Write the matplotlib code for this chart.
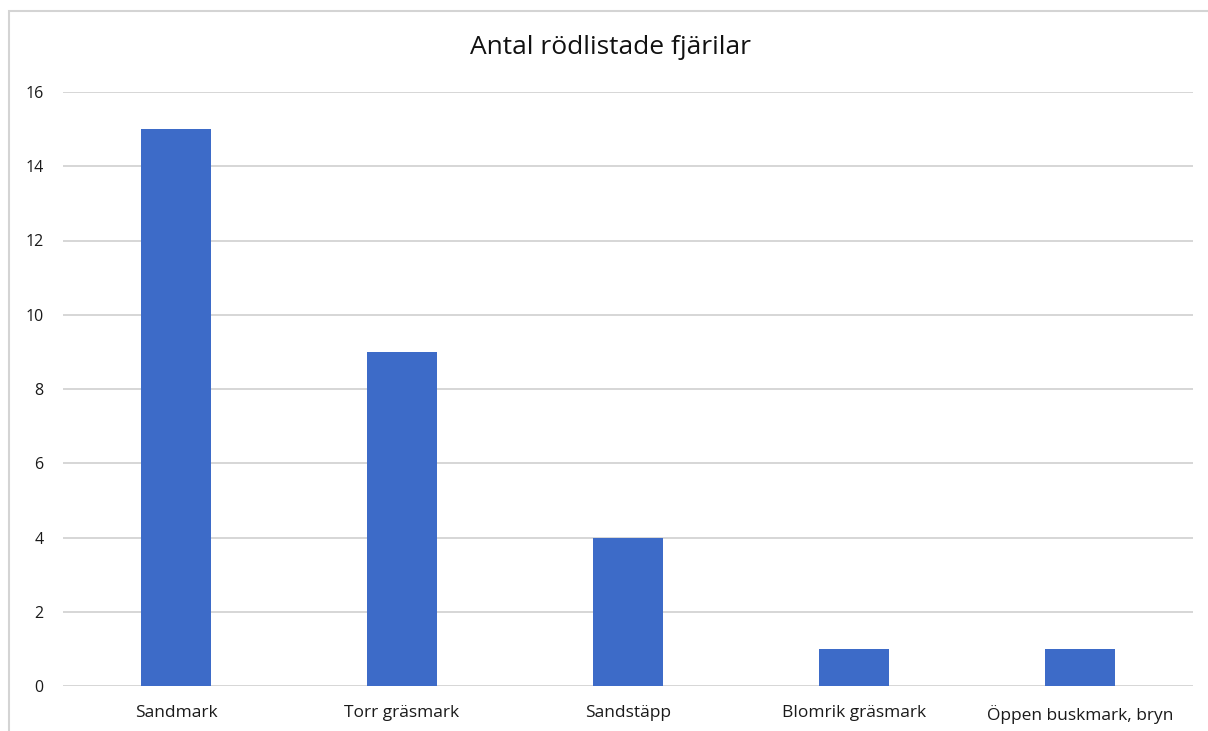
import matplotlib
matplotlib.use("Agg")
import matplotlib.pyplot as plt
from matplotlib.patches import Rectangle

categories = ["Sandmark", "Torr gräsmark", "Sandstäpp", "Blomrik gräsmark", "Öppen buskmark, bryn"]
values = [15, 9, 4, 1, 1]
y_ticks = [0, 2, 4, 6, 8, 10, 12, 14, 16]
title = "Antal rödlistade fjärilar"

W, H = 1208, 731
fig = plt.figure(figsize=(W / 100, H / 100), dpi=100)
fig.patch.set_facecolor("white")

# light frame around the chart area
fig.patches.append(Rectangle((9 / W, -0.01), 1.02, 1 - 11 / H + 0.01,
                             transform=fig.transFigure, fill=False,
                             edgecolor="#d4d4d4", linewidth=1.5))

left, right = 63 / W, 1193 / W
bottom, top = 1 - 686 / H, 1 - 92 / H
ax = fig.add_axes([left, bottom, right - left, top - bottom])

font = "Open Sans"
x = range(len(categories))
ax.bar(x, values, width=0.31, color="#3d6bc8", zorder=3)

ax.set_xlim(-0.5, len(categories) - 0.5)
ax.set_ylim(0, 16)
ax.set_yticks(y_ticks)
ax.set_yticklabels([str(t) for t in y_ticks], fontsize=11.5, family=font, color="#1a1a1a")
ax.set_xticks(list(x))
ax.set_xticklabels(categories, fontsize=12.5, family=font, color="#1a1a1a")
ax.tick_params(axis="both", length=0)
ax.tick_params(axis="y", pad=14)
ax.tick_params(axis="x", pad=14)

ax.grid(axis="y", color="#d3d3d3", linewidth=1.3, zorder=0)
for s in ax.spines.values():
    s.set_visible(False)

fig.text(611 / W, 1 - 48 / H, title, ha="center", va="center",
         fontsize=19, family=font, color="#111111")

fig.savefig("out.png", dpi=100)
